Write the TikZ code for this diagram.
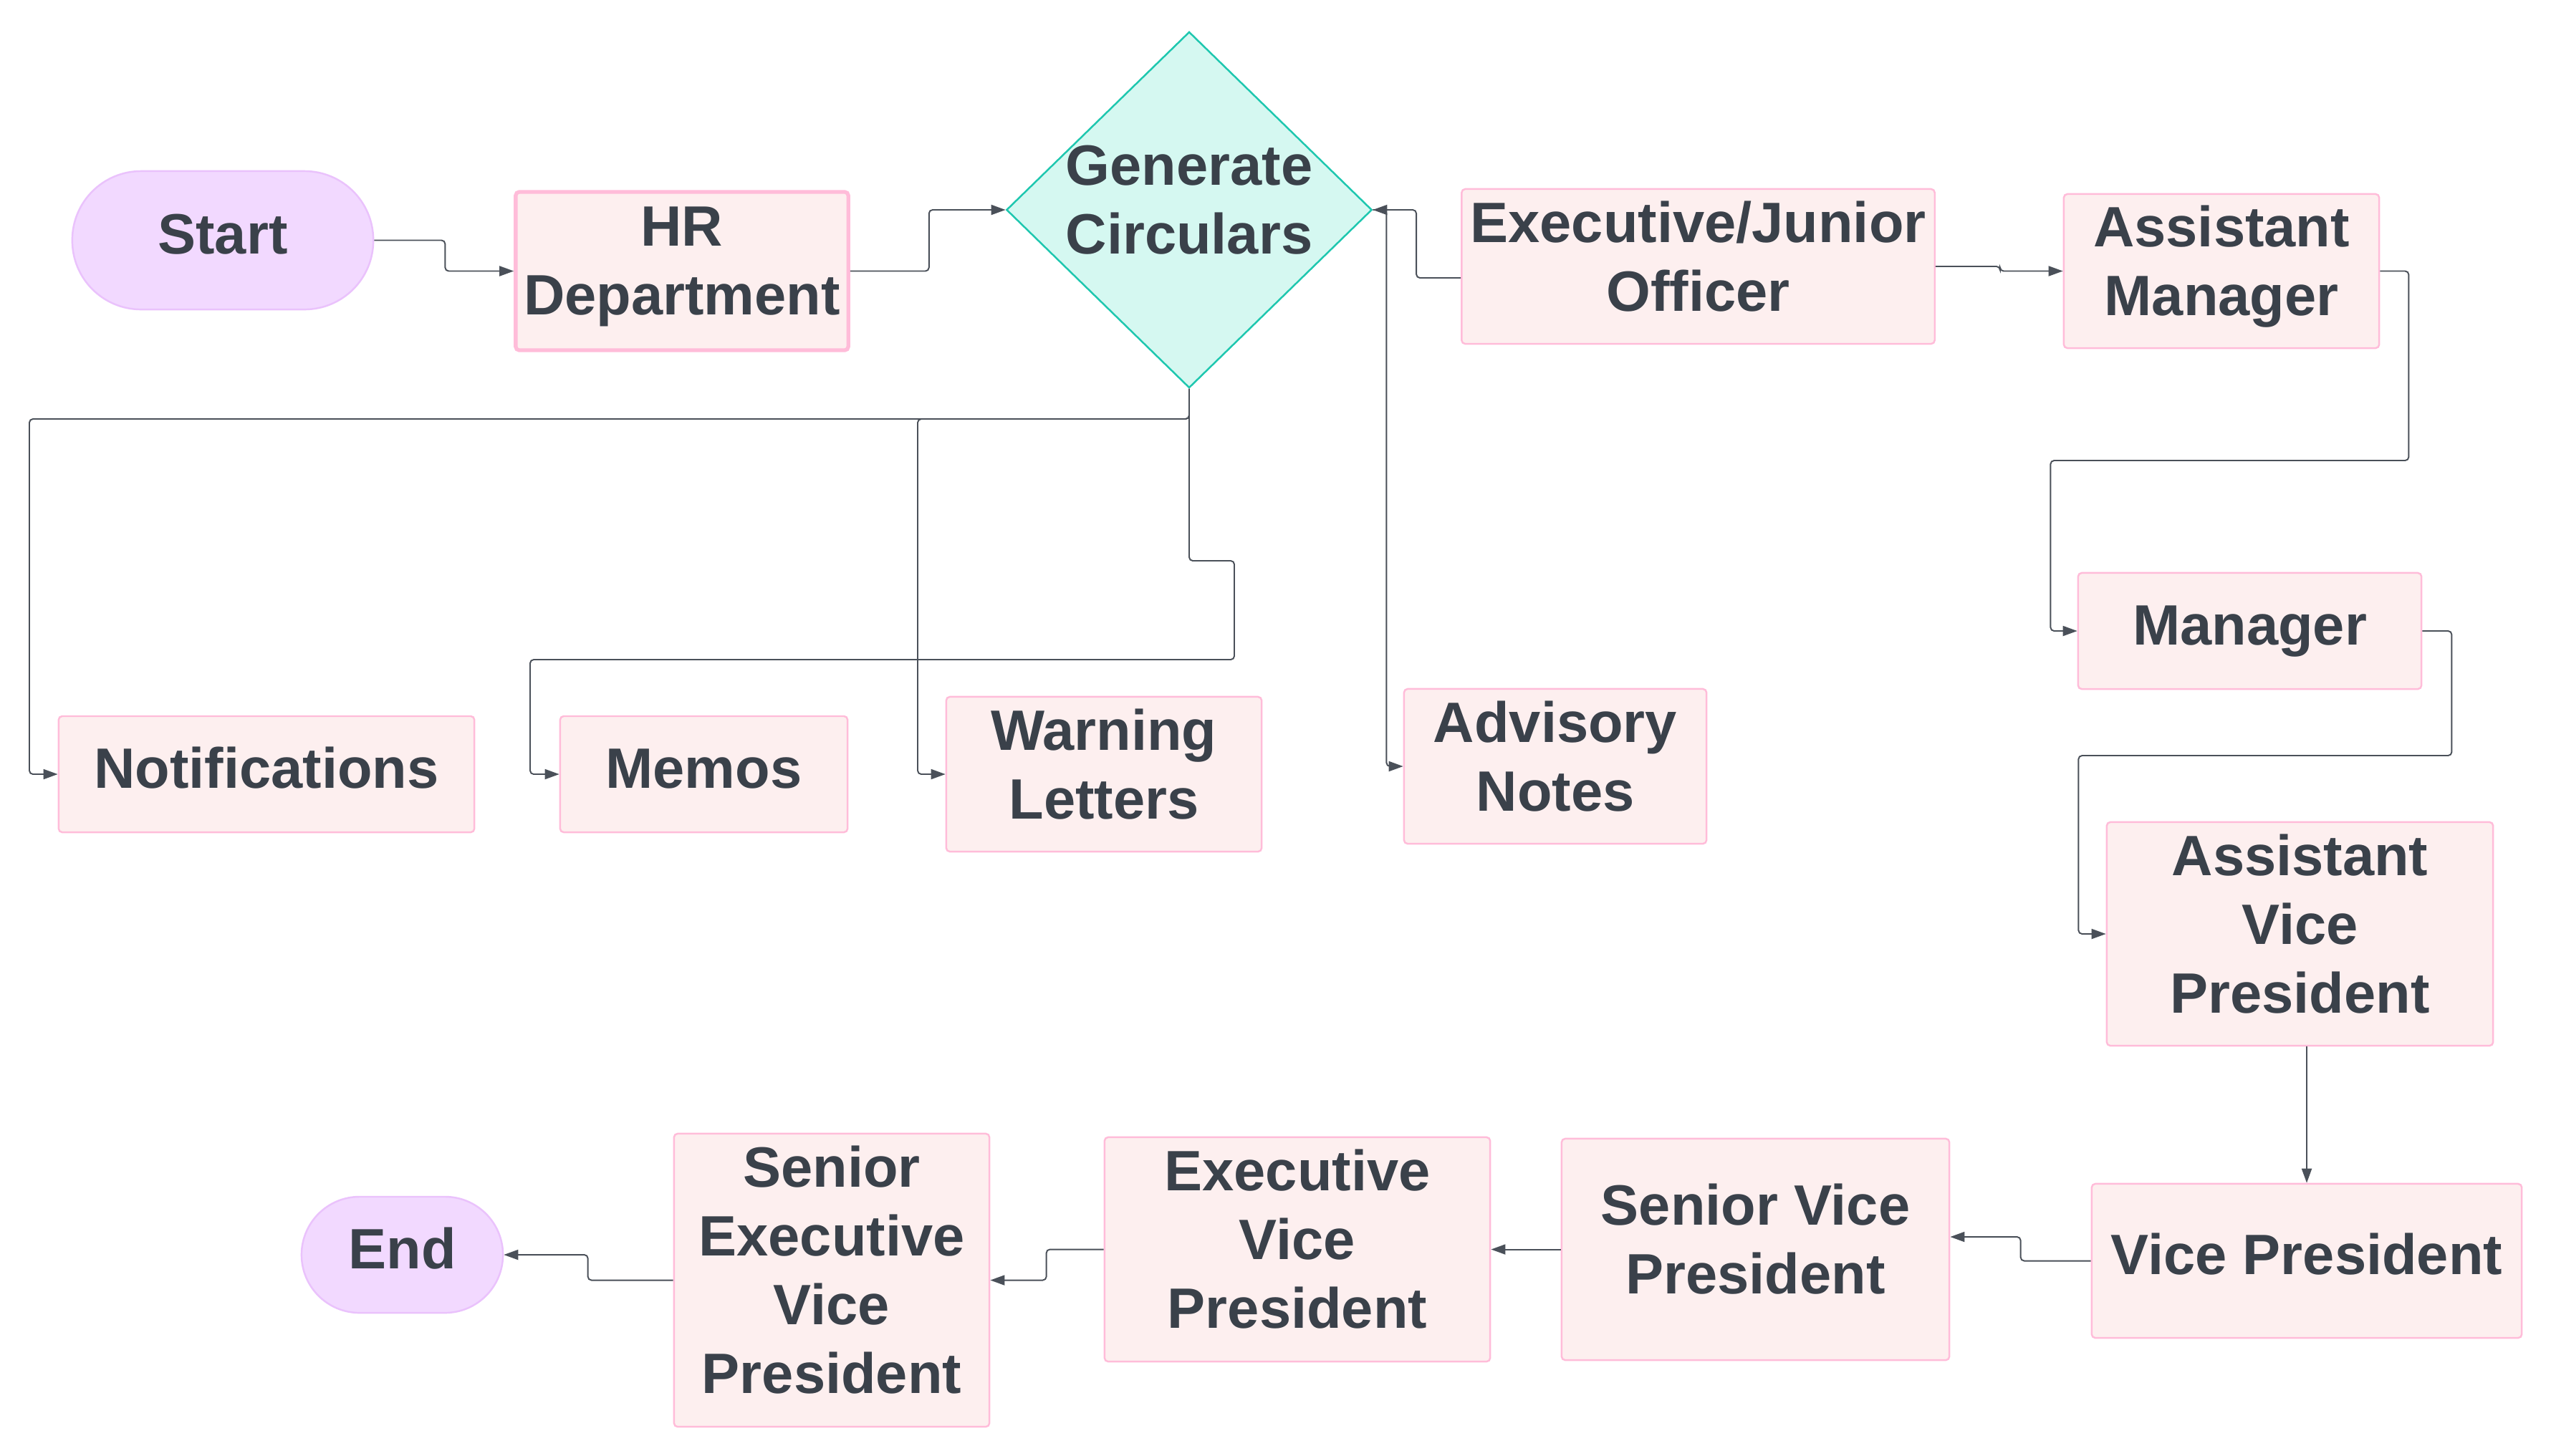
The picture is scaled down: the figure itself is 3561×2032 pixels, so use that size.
\documentclass[tikz,border=0pt]{standalone}
\usepackage{fontspec}
\setmainfont{Liberation Sans}
\usetikzlibrary{shapes.geometric,arrows.meta}
\definecolor{txt}{HTML}{3A414A}
\definecolor{boxfill}{HTML}{FDEFEF}
\definecolor{boxline}{HTML}{FFBCD9}
\definecolor{termfill}{HTML}{F2D9FF}
\definecolor{termline}{HTML}{EAC2FC}
\definecolor{dfill}{HTML}{D5F8F1}
\definecolor{dline}{HTML}{1EC7AF}
\definecolor{connc}{HTML}{4A5059}
\begin{document}
\begin{tikzpicture}[x=0.01cm,y=-0.01cm,
  every node/.style={font=\fontsize{22.6}{27.3}\selectfont\bfseries, text=txt, align=center, inner sep=0pt,
    execute at begin node=\strut, execute at end node=\strut},
  sz/.style 2 args={minimum width=#1cm, minimum height=#2cm},
  box/.style={rectangle, draw=boxline, fill=boxfill, line width=0.7pt, rounded corners=0.05cm},
  term/.style={rectangle, draw=termline, fill=termfill, line width=0.7pt},
  decide/.style={diamond, draw=dline, fill=dfill, line width=0.7pt, aspect=1.026, inner sep=-0.055cm},
  conn/.style={draw=connc, line width=0.55pt, rounded corners=0.05cm, -{Triangle[length=0.2cm,width=0.14cm]}}
]
\fill[white] (0,0) rectangle (3561,2032);
\useasboundingbox (0,0) rectangle (3561,2032);

\node[term, sz={4.20}{1.93}, rounded corners=0.96cm] (start) at (311,335.5) {Start};
\node[box, sz={4.64}{2.21}, line width=1.5pt] (hr) at (952,378.5) {HR\\Department};
\node[decide, sz={5.10}{4.97}] (gen) at (1660,293) {Generate\\Circulars};
\node[box, sz={6.60}{2.16}] (exec) at (2370.5,372) {Executive/Junior\\Officer};
\node[box, sz={4.40}{2.15}] (am) at (3101,378.5) {Assistant\\Manager};
\node[box, sz={4.79}{1.62}] (mgr) at (3140.5,881) {Manager};
\node[box, sz={5.39}{3.12}] (avp) at (3210.5,1304) {Assistant\\Vice\\President};
\node[box, sz={6.00}{2.15}] (vp) at (3220,1760.5) {Vice President};
\node[box, sz={5.41}{3.09}] (svp) at (2450.5,1744.5) {Senior Vice\\President};
\node[box, sz={5.38}{3.13}] (evp) at (1811,1744.5) {Executive\\Vice\\President};
\node[box, sz={4.40}{4.09}] (sevp) at (1161,1787.5) {Senior\\Executive\\Vice\\President};
\node[term, sz={2.81}{1.62}, rounded corners=0.81cm] (endn) at (561.5,1752) {End};
\node[box, sz={5.80}{1.62}] (notif) at (372,1081) {Notifications};
\node[box, sz={4.01}{1.62}] (memo) at (982.5,1081) {Memos};
\node[box, sz={4.40}{2.16}] (warn) at (1541,1081) {Warning\\Letters};
\node[box, sz={4.22}{2.16}] (adv) at (2171,1070) {Advisory\\Notes};

\draw[conn] (start.east) -- ++(99,0) |- (hr.west);
\draw[conn] (hr.east) -- ++(110,0) |- (gen.west);
\draw[conn] (exec.west |- 0,388) -- ++(-62,0) |- (gen.east);
\draw[conn] (gen.east) -- ++(19,0) |- (adv.west);
\draw[conn] (exec.east) -- ++(90,0) |- (am.west);
\draw[conn] (am.east) -- ++(40,0) -- ++(0,264.5) -- ++(-500,0) |- (mgr.west);
\draw[conn] (mgr.east) -- ++(41,0) -- ++(0,174) -- ++(-521,0) |- (avp.west);
\draw[conn] (avp.south -| vp.north) -- (vp.north);
\draw[conn] (vp.west) -- ++(-98,0) |- (svp.east |- 0,1727);
\draw[conn] (svp.west) -- (evp.east);
\draw[conn] (evp.west) -- ++(-80,0) |- (sevp.east);
\draw[conn] (sevp.west) -- ++(-119,0) |- (endn.east);
\draw[conn] (gen.south) |- (41,585) |- (notif.west);
\draw[conn] (gen.south) |- (1281,585) |- (warn.west);
\draw[conn] (gen.south) |- (1723,783) |- (740,921) |- (memo.west);
\end{tikzpicture}
\end{document}
